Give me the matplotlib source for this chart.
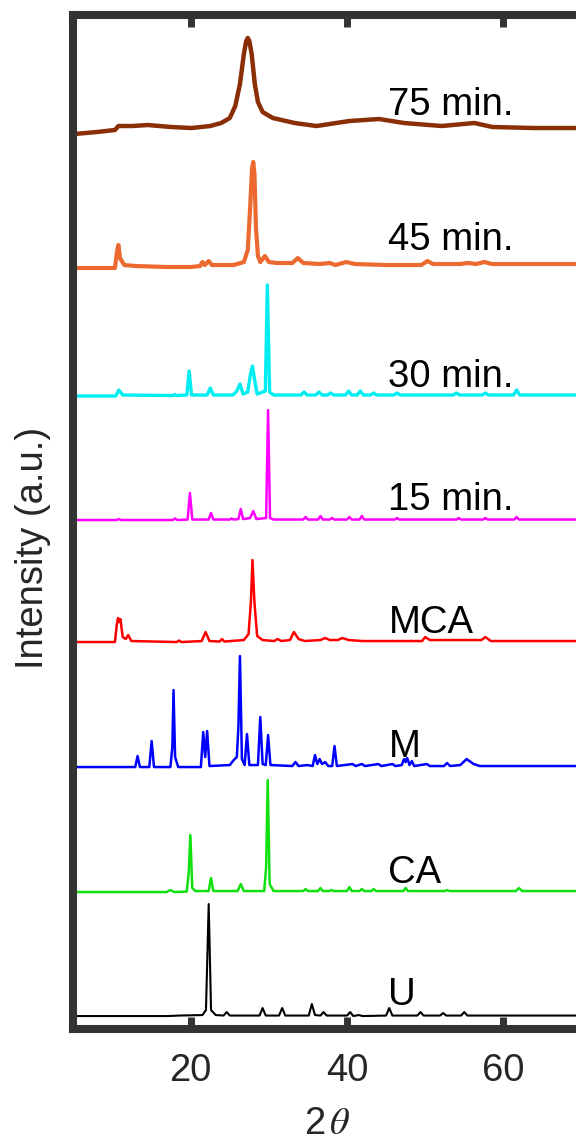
import matplotlib
matplotlib.use("Agg")
import matplotlib.pyplot as plt
import numpy as np

# XRD traces: (2theta, intensity above own baseline)
U_TRACE = [(5, 0), (17, 0), (18.5, 0.5), (21.5, 1), (21.95, 6), (22.3, 112), (22.6, 6), (23.2, 1),
           (24.2, 0.5), (24.6, 4), (25.0, 0.5), (28.8, 0.5), (29.2, 8), (29.6, 0.5), (31.3, 0.5),
           (31.7, 8), (32.1, 0.5), (35.1, 0.5), (35.5, 12), (35.9, 1), (36.6, 0.5), (37.0, 4),
           (37.4, 0.5), (40.0, 0.5), (40.4, 4), (40.8, 0), (41.5, 1), (42.0, 0), (45.0, 0.5),
           (45.4, 8), (45.8, 0.5), (49.0, 0.5), (49.4, 4), (49.8, 0.5), (51.9, 0.5), (52.3, 3),
           (52.7, 0.5), (54.6, 0.5), (55.0, 4), (55.4, 0.5), (70, 0.5)]

CA_TRACE = [(5, 0), (16.9, 0), (17.4, 2), (17.9, 0), (19.5, 0.5), (19.75, 20), (19.95, 57), (20.2, 4),
            (20.6, 1), (22.3, 1), (22.6, 14), (22.9, 1), (26.0, 1), (26.4, 8), (26.8, 1), (29.4, 1),
            (29.65, 25), (29.85, 112), (30.1, 8), (30.6, 1), (34.4, 1), (34.7, 3), (35.0, 1),
            (36.3, 1), (36.6, 4), (36.9, 1), (37.7, 1), (38.0, 2), (38.3, 1), (40.0, 1), (40.3, 5),
            (40.6, 1), (41.6, 1), (41.9, 3), (42.2, 1), (43.1, 1), (43.4, 3), (43.7, 1), (47.2, 1),
            (47.5, 4), (47.8, 1), (52.5, 1), (52.8, 2), (53.1, 1), (61.6, 1), (62.0, 4), (62.4, 1),
            (70, 1)]

M_TRACE = [(5, 0), (12.9, 0), (13.2, 11), (13.5, 0), (14.7, 0), (15.0, 26), (15.3, 0), (17.4, 0),
           (17.65, 20), (17.8, 77), (18.0, 10), (18.4, 0), (21.3, 0), (21.6, 35), (21.85, 10),
           (22.1, 36), (22.4, 1), (25.0, 2), (25.5, 7), (25.9, 10), (26.1, 40), (26.3, 111),
           (26.55, 8), (26.9, 2), (27.2, 33), (27.5, 2), (28.6, 2), (28.9, 50), (29.2, 3), (29.6, 2),
           (29.9, 32), (30.2, 2), (33.0, 1), (33.4, 5), (33.8, 1), (34.9, 2), (35.6, 1), (35.9, 12),
           (36.2, 3), (36.5, 8), (36.8, 3), (37.2, 5), (37.6, 1), (38.1, 1), (38.4, 21), (38.7, 1),
           (40.7, 3), (41.1, 1), (41.9, 3), (42.3, 1), (44.0, 3), (44.4, 1), (45.8, 3), (46.2, 1),
           (47.0, 2), (47.3, 8), (47.5, 5), (47.7, 9), (48.0, 2), (48.3, 6), (48.6, 1), (50.2, 3),
           (50.6, 1), (52.4, 1), (52.8, 4), (53.2, 1), (54.5, 2), (55.3, 8), (56.2, 3), (57.0, 1),
           (70, 1)]

MCA_TRACE = [(5, 0), (10.3, 0), (10.55, 18), (10.7, 24), (10.85, 20), (11.0, 23), (11.3, 5), (11.7, 3),
             (12.0, 7), (12.4, 1), (18.2, 0), (18.5, 1.5), (18.8, 0), (21.4, 1), (21.9, 10), (22.4, 1),
             (23.7, 0.5), (24.0, 3), (24.3, 0.5), (26.8, 2), (27.4, 8), (27.7, 40), (27.9, 82),
             (28.15, 40), (28.5, 6), (29.2, 2), (30.7, 1), (31.1, 3), (31.6, 1), (32.7, 2), (33.2, 10),
             (33.8, 3), (34.6, 1), (36.6, 2), (37.2, 4), (37.8, 2), (38.8, 2), (39.4, 4), (40.2, 2),
             (42, 1), (49.6, 1), (50.0, 5), (50.6, 2), (57.2, 2), (57.7, 5), (58.4, 1), (70, 1)]

MIN15_TRACE = [(5, 0), (10.5, 0), (10.8, 1), (11.1, 0), (17.7, 0), (18.0, 1.5), (18.3, 0), (19.6, 0.5),
               (19.9, 27), (20.2, 0.5), (22.3, 0.5), (22.6, 7), (22.9, 0.5), (25.0, 0.5), (25.2, 1.5),
               (25.5, 0.5), (26.1, 1), (26.4, 11), (26.7, 1), (27.6, 2), (28.0, 9), (28.4, 1),
               (29.65, 2), (29.9, 110), (30.15, 2), (30.6, 0.5), (34.4, 0.5), (34.7, 3), (35.0, 0.5),
               (36.3, 0.5), (36.6, 4), (36.9, 0.5), (37.8, 0.5), (38.1, 2), (38.4, 0.5), (40.0, 0.5),
               (40.3, 3), (40.6, 0.5), (41.6, 0.5), (41.9, 4), (42.2, 0.5), (46.1, 0.5), (46.4, 2),
               (46.7, 0.5), (54.0, 0.5), (54.3, 2), (54.6, 0.5), (57.4, 0.5), (57.7, 2), (58.0, 0.5),
               (61.4, 0.5), (61.7, 3), (62.0, 0.5), (70, 0.5)]

MIN30_TRACE = [(5, 0), (10.4, 0), (10.8, 6), (11.3, 1), (17.7, 0.5), (17.9, 1.5), (18.2, 0.5), (19.5, 1),
               (19.8, 25), (20.1, 1), (22.1, 1), (22.5, 8), (22.9, 1), (25.4, 1), (25.9, 5), (26.3, 12),
               (26.7, 2), (27.3, 4), (27.6, 20), (27.9, 30), (28.2, 15), (28.5, 2), (29.55, 5),
               (29.8, 111), (30.1, 4), (30.6, 1), (34.1, 1), (34.5, 4), (34.9, 1), (36.0, 1), (36.4, 4),
               (36.8, 1), (37.5, 1), (37.9, 3), (38.3, 1), (39.8, 1), (40.2, 5), (40.6, 1), (41.3, 1),
               (41.7, 5), (42.1, 1), (43.0, 1), (43.4, 3), (43.8, 1), (46.0, 1), (46.4, 3), (46.8, 1),
               (53.6, 1), (54.0, 3), (54.4, 1), (57.3, 1), (57.7, 3), (58.1, 1), (61.3, 1), (61.7, 6),
               (62.1, 1), (70, 1)]

MIN45_TRACE = [(5, 0), (10.3, 0), (10.6, 18), (10.75, 23), (10.95, 10), (11.5, 3), (13, 2), (17, 1),
               (20, 1), (21.2, 2), (21.5, 6), (21.8, 3), (22.3, 7), (22.7, 3), (25.5, 3), (26.8, 6),
               (27.3, 18), (27.6, 60), (27.85, 100), (28.0, 106), (28.15, 95), (28.35, 40), (28.6, 12),
               (28.9, 6), (29.5, 12), (30.0, 6), (31, 5), (33.0, 5), (33.7, 10), (34.4, 5), (36.5, 4),
               (37.8, 5), (38.5, 3), (39.9, 6), (41, 4), (45, 3), (49.5, 3), (50.3, 7), (51, 4),
               (54.5, 4), (55.4, 5), (56.5, 4), (57.6, 6), (58.5, 4), (70, 4)]

MIN75_TRACE = [(5.1, 0), (8.0, 2), (10.3, 4), (10.75, 8), (12.5, 8), (14.5, 9), (17.5, 7), (20.1, 6),
               (22.5, 8), (23.9, 11), (25.0, 16), (25.7, 28), (26.3, 50), (26.8, 80), (27.1, 93),
               (27.3, 96), (27.5, 93), (27.8, 80), (28.2, 50), (28.6, 32), (29.2, 22), (30.5, 16),
               (33.3, 11), (36.1, 8), (40.3, 13), (44.1, 15), (47.3, 11), (52.1, 8), (56.3, 11),
               (58.6, 7), (63.8, 6), (70, 6)]

traces = [U_TRACE, CA_TRACE, M_TRACE, MCA_TRACE, MIN15_TRACE, MIN30_TRACE, MIN45_TRACE, MIN75_TRACE]
names = ['U', 'CA', 'M', 'MCA', '15 min.', '30 min.', '45 min.', '75 min.']

# styling / stacking
offsets = [13, 137, 262, 387, 509, 633, 761, 895]
label_y = [24, 146, 272, 396, 519, 642, 779, 914]
colors = ['#000000', '#10e010', '#0000ff', '#ff0000', '#ff00ff', '#00eef2', '#ec6a2f', '#8a2f05']
widths = [1.5, 1.8, 1.8, 1.8, 1.8, 2.4, 3.0, 3.2]

plt.rcParams['font.family'] = ['Liberation Sans', 'DejaVu Sans']
plt.rcParams['mathtext.fontset'] = 'stix'

fig = plt.figure(figsize=(5.76, 11.42), dpi=100)
ax = fig.add_axes([0.1276, 0.0989, 1.0095 - 0.1276, 0.9873 - 0.0989])

for tr, off, c, lw in zip(traces, offsets, colors, widths):
    arr = np.array(tr)
    ax.plot(arr[:, 0], arr[:, 1] + off, color=c, lw=lw, solid_joinstyle='round')

for name, y in zip(names, label_y):
    ax.text(45.3, y, name, fontsize=27.5, color='black', va='baseline', ha='left')

ax.set_xlim(5, 70)
ax.set_ylim(0, 1014.5)
ax.set_xticks([20, 40, 60])
ax.set_yticks([])
ax.tick_params(axis='x', direction='in', length=8.6, width=5, top=True, labeltop=False,
               labelsize=27.5, labelcolor='#262626', color='#333333', pad=17)
for s in ax.spines.values():
    s.set_linewidth(5.8)
    s.set_color('#333333')
    s.set_capstyle('projecting')

ax.set_xlabel(r'2$\,\theta$', fontsize=27.5, color='#262626')
ax.xaxis.set_label_coords(0.5, -0.076)
ax.xaxis.label.set_va('top')
ax.set_ylabel('Intensity (a.u.)', fontsize=27.5, color='#262626')
ax.yaxis.set_label_coords(-0.044, 0.474)

fig.savefig('out.png', dpi=100)
